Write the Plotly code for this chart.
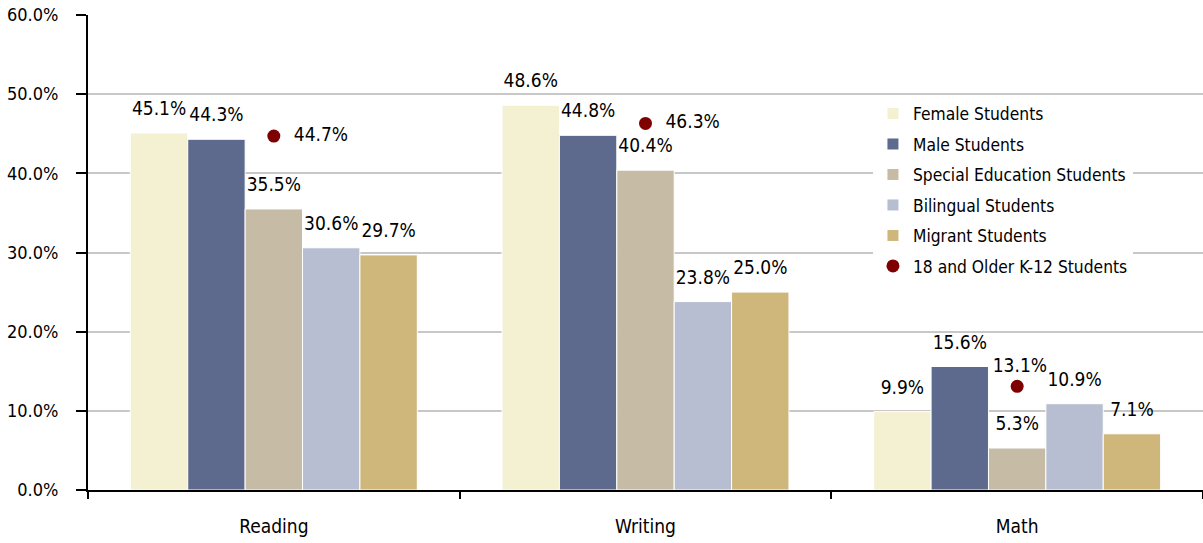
import plotly.graph_objects as go

# Categories and series values (percent)
subjects = ["Reading", "Writing", "Math"]
female = [45.1, 48.6, 9.9]
male = [44.3, 44.8, 15.6]
special_ed = [35.5, 40.4, 5.3]
bilingual = [30.6, 23.8, 10.9]
migrant = [29.7, 25.0, 7.1]
older_k12 = [44.7, 46.3, 13.1]

bar_series = [
    ("Female Students", female, "#F4F0D2"),
    ("Male Students", male, "#5D6A8D"),
    ("Special Education Students", special_ed, "#C6BBA4"),
    ("Bilingual Students", bilingual, "#B8BED2"),
    ("Migrant Students", migrant, "#CFB77B"),
]

FONT = "Liberation Sans Narrow, DejaVu Sans Condensed, Arial Narrow, sans-serif"
NB = "\u00a0"

# Bar value labels: large value line plus a small spacer line that lifts
# the label a little further above the bar end.
BAR_LABEL = "<span style='font-size:19px'>%{y:.1f}%</span><br>" + NB

fig = go.Figure()
for i, (name, vals, color) in enumerate(bar_series):
    fig.add_trace(go.Bar(
        name=name, x=subjects, y=vals,
        marker=dict(color=color, line=dict(color="white", width=1)),
        texttemplate=BAR_LABEL, textposition="outside", constraintext="none",
        textfont=dict(family=FONT, size=10, color="black"),
        cliponaxis=False, legendgroup=f"g{i}",
    ))

fig.add_trace(go.Scatter(
    name="18 and Older K-12 Students", x=subjects, y=older_k12,
    mode="markers+text",
    marker=dict(color="#7F0000", size=13),
    texttemplate=[NB * 2 + "%{y:.1f}%", NB * 2 + "%{y:.1f}%", NB + "%{y:.1f}%"],
    textposition=["middle right", "middle right", "top center"],
    textfont=dict(family=FONT, size=19, color="black"),
    cliponaxis=False, legendgroup="g5",
))

fig.update_layout(
    width=1203, height=543,
    margin=dict(l=88, r=0, t=15, b=53),
    paper_bgcolor="white", plot_bgcolor="white",
    barmode="group", bargap=0.228, bargroupgap=0,
    font=dict(family=FONT, size=18, color="black"),
    legend=dict(
        x=0.704, y=0.83, xanchor="left", yanchor="top",
        bgcolor="white", font=dict(family=FONT, size=17.3, color="black"),
        tracegroupgap=5, itemwidth=30,
    ),
    xaxis=dict(
        showline=True, linecolor="black", linewidth=2,
        ticks="outside", tickson="boundaries", ticklen=7, tickwidth=1.5, tickcolor="black",
        ticklabelstandoff=18,
        showgrid=False, tickfont=dict(family=FONT, size=19, color="black"),
    ),
    yaxis=dict(
        range=[0, 60], dtick=10, tickformat=".1f", ticksuffix="%",
        showline=True, linecolor="black", linewidth=2,
        ticks="outside", ticklen=10, tickwidth=1.5, tickcolor="black",
        ticklabelstandoff=14,
        showgrid=True, gridcolor="#C8C8C8", gridwidth=1.5,
        zeroline=False, tickfont=dict(family=FONT, size=18, color="black"),
    ),
)

fig.write_html("out.html")
